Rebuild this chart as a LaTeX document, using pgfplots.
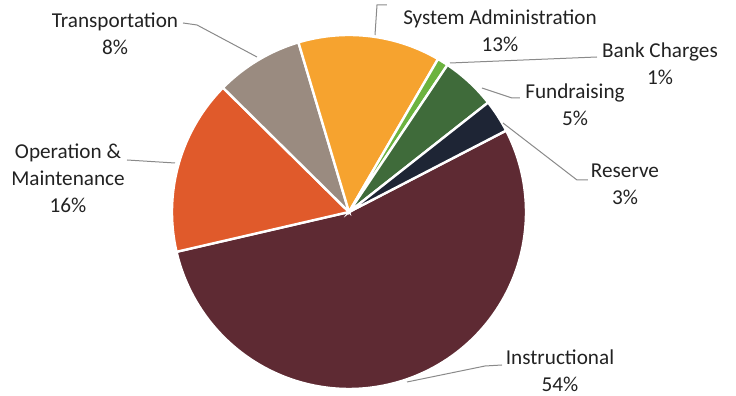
\documentclass[border=0pt]{standalone}
\usepackage{pgfplots}
\pgfplotsset{compat=1.18}
\usepackage{fontspec}
\setmainfont{Carlito}
\definecolor{cInstr}{HTML}{5E2A33}
\definecolor{cOper}{HTML}{E05A2B}
\definecolor{cTrans}{HTML}{9A8B80}
\definecolor{cSys}{HTML}{F6A32F}
\definecolor{cBank}{HTML}{6CB33F}
\definecolor{cFund}{HTML}{3F6B3A}
\definecolor{cRes}{HTML}{1E2535}
\definecolor{cLead}{HTML}{8A8A8A}
\definecolor{cText}{HTML}{222222}
% Shares (%): Instructional 54, Operation & Maintenance 16, Transportation 8,
% System Administration 13, Bank Charges 1, Fundraising 5, Reserve 3
% Angles: start 27.4 deg, 3.6 deg per percent, clockwise.
\begin{document}
\begin{tikzpicture}
\begin{axis}[
  x=0.5pt, y=0.5pt,
  xmin=0, xmax=736, ymin=0, ymax=396,
  hide axis, clip=false,
  scale only axis,
  every axis plot/.append style={draw=white, line width=1.2pt, samples=90, smooth=false},
]
\path (axis cs:0,0) rectangle (axis cs:736,396);
% Instructional 54%
\addplot[fill=cInstr, domain=-167.0:27.4] ({349+177*cos(x)},{184+177*sin(x)}) -- (axis cs:349,184) -- cycle;
% Operation & Maintenance 16%
\addplot[fill=cOper, domain=135.4:193.0] ({349+177*cos(x)},{184+177*sin(x)}) -- (axis cs:349,184) -- cycle;
% Transportation 8%
\addplot[fill=cTrans, domain=106.6:135.4] ({349+177*cos(x)},{184+177*sin(x)}) -- (axis cs:349,184) -- cycle;
% System Administration 13%
\addplot[fill=cSys, domain=59.8:106.6] ({349+177*cos(x)},{184+177*sin(x)}) -- (axis cs:349,184) -- cycle;
% Bank Charges 1%
\addplot[fill=cBank, domain=56.2:59.8, samples=10] ({349+177*cos(x)},{184+177*sin(x)}) -- (axis cs:349,184) -- cycle;
% Fundraising 5%
\addplot[fill=cFund, domain=38.2:56.2, samples=30] ({349+177*cos(x)},{184+177*sin(x)}) -- (axis cs:349,184) -- cycle;
% Reserve 3%
\addplot[fill=cRes, domain=27.4:38.2, samples=20] ({349+177*cos(x)},{184+177*sin(x)}) -- (axis cs:349,184) -- cycle;

% leader lines
\draw[cLead, line width=0.5pt] (axis cs:183,373) -- (axis cs:197,371) -- (axis cs:257,339);
\draw[cLead, line width=0.5pt] (axis cs:127,236) -- (axis cs:175,233);
\draw[cLead, line width=0.5pt] (axis cs:387,391) -- (axis cs:377,391) -- (axis cs:375,361);
\draw[cLead, line width=0.5pt] (axis cs:597,339) -- (axis cs:450,333);
\draw[cLead, line width=0.5pt] (axis cs:520,298) -- (axis cs:512,298) -- (axis cs:482,308);
\draw[cLead, line width=0.5pt] (axis cs:588,216) -- (axis cs:577,216) -- (axis cs:503,273);
\draw[cLead, line width=0.5pt] (axis cs:502,31) -- (axis cs:485,30) -- (axis cs:407,14);

% labels
\begin{scope}[every node/.style={align=center, text=cText, font=\fontsize{10.6}{13.5}\selectfont, inner sep=0pt}]
\node at (axis cs:115,362.5) {Transportation\\8\%};
\node at (axis cs:68,218) {Operation \&\\Maintenance\\16\%};
\node at (axis cs:500,365.5) {System Administration\\13\%};
\node at (axis cs:660,332.5) {Bank Charges\\1\%};
\node at (axis cs:575,291) {Fundraising\\5\%};
\node at (axis cs:625,212) {Reserve\\3\%};
\node at (axis cs:560,25) {Instructional\\54\%};
\end{scope}
\end{axis}
\end{tikzpicture}
\end{document}
